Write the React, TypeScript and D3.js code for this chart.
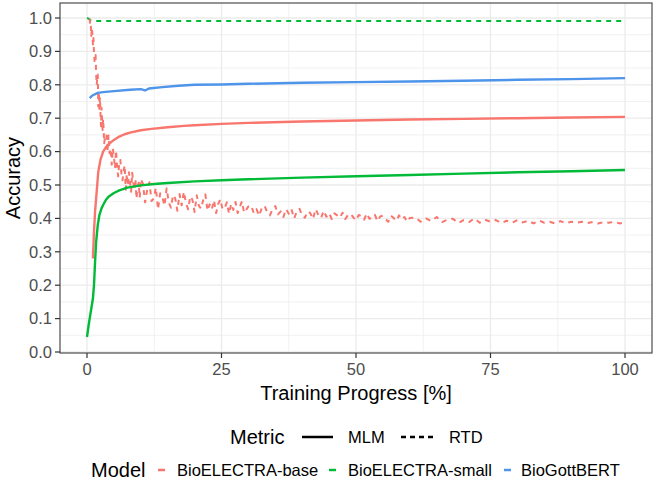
import * as d3 from 'd3';

const W = 655;
const H = 481;

// x: training progress (%), y: accuracy
const smallRtdX = [0, 0.3, 0.7, 1.2, 2, 5, 10, 25, 50, 75, 100];
const smallRtdY = [1.0, 0.998, 0.993, 0.991, 0.991, 0.991, 0.991, 0.991, 0.991, 0.991, 0.991];

const gottMlmX = [0.5, 1, 2, 3, 5, 8, 10, 10.8, 11.5, 14, 17, 20, 25, 30, 40, 50, 60, 70, 80, 90, 100];
const gottMlmY = [0.76, 0.768, 0.776, 0.778, 0.781, 0.785, 0.787, 0.783, 0.789, 0.793, 0.797, 0.8, 0.801, 0.803, 0.806, 0.808, 0.81, 0.812, 0.815, 0.817, 0.82];

const baseMlmX = [1.1, 1.3, 1.5, 1.8, 2.1, 2.5, 3, 3.5, 4, 5, 6, 7, 8, 10, 12, 15, 18, 20, 25, 30, 40, 50, 60, 70, 80, 90, 100];
const baseMlmY = [0.28, 0.36, 0.42, 0.48, 0.54, 0.575, 0.6, 0.613, 0.622, 0.635, 0.645, 0.652, 0.657, 0.664, 0.668, 0.673, 0.677, 0.679, 0.683, 0.686, 0.69, 0.693, 0.696, 0.698, 0.7, 0.702, 0.704];

const smallMlmX = [0, 0.3, 0.6, 0.9, 1.1, 1.3, 1.5, 1.7, 2, 2.3, 2.7, 3, 3.5, 4, 5, 6, 7.5, 10, 12.5, 15, 20, 25, 30, 40, 50, 60, 70, 80, 90, 100];
const smallMlmY = [0.045, 0.08, 0.11, 0.14, 0.16, 0.2, 0.27, 0.33, 0.38, 0.41, 0.43, 0.44, 0.455, 0.465, 0.476, 0.484, 0.492, 0.499, 0.503, 0.506, 0.511, 0.514, 0.517, 0.522, 0.526, 0.53, 0.534, 0.538, 0.541, 0.545];

// BioELECTRA-base RTD accuracy, noisy readings
const baseRtd: [number, number][] = [
  [0.5, 0.998], [0.6, 0.974], [0.7, 0.978], [0.8, 0.946], [0.9, 0.97], [1.0, 0.952], [1.1, 0.921], [1.2, 0.94],
  [1.3, 0.898], [1.4, 0.871], [1.5, 0.884], [1.6, 0.889], [1.7, 0.833], [1.8, 0.8], [1.9, 0.82], [2.0, 0.831],
  [2.1, 0.735], [2.2, 0.778], [2.3, 0.728], [2.4, 0.763], [2.5, 0.718], [2.6, 0.676], [2.7, 0.731], [2.8, 0.696],
  [2.9, 0.665], [3.0, 0.698],
  [3.2, 0.625], [3.4, 0.651], [3.6, 0.651], [3.8, 0.598], [4.0, 0.648], [4.2, 0.595], [4.4, 0.609], [4.6, 0.561],
  [4.8, 0.61], [5.0, 0.586], [5.2, 0.55], [5.4, 0.604], [5.6, 0.553], [5.8, 0.526], [6.0, 0.57], [6.2, 0.575],
  [6.4, 0.534], [6.6, 0.514], [6.8, 0.541], [7.0, 0.559], [7.2, 0.486], [7.4, 0.533], [7.6, 0.498], [7.8, 0.538],
  [8.0, 0.506], [8.2, 0.48], [8.4, 0.537], [8.6, 0.509], [8.8, 0.485], [9.0, 0.518], [9.2, 0.459], [9.4, 0.495],
  [9.6, 0.507], [9.8, 0.462], [10.0, 0.518],
  [10.4, 0.504], [10.8, 0.448], [11.2, 0.487], [11.6, 0.508], [12.0, 0.452], [12.4, 0.46], [12.8, 0.492], [13.2, 0.427],
  [13.6, 0.475], [14.0, 0.464], [14.4, 0.438], [14.8, 0.49], [15.2, 0.448], [15.6, 0.432], [16.0, 0.47], [16.4, 0.46],
  [16.8, 0.423], [17.2, 0.473], [17.6, 0.439], [18.0, 0.48], [18.4, 0.446], [18.8, 0.427], [19.2, 0.466], [19.6, 0.456],
  [20.0, 0.419], [20.4, 0.469], [20.8, 0.438], [21.2, 0.429], [21.6, 0.455], [22.0, 0.472], [22.4, 0.423], [22.8, 0.442],
  [23.2, 0.427], [23.6, 0.454], [24.0, 0.416], [24.4, 0.444], [24.8, 0.457], [25.2, 0.427], [25.6, 0.431], [26.0, 0.448],
  [26.4, 0.414], [26.8, 0.444], [27.2, 0.425], [27.6, 0.449], [28.0, 0.416], [28.4, 0.434], [28.8, 0.451], [29.2, 0.417],
  [29.6, 0.426], [30.0, 0.436],
  [30.5, 0.439], [31.0, 0.416], [31.5, 0.428], [32.0, 0.408], [32.5, 0.432], [33.0, 0.438], [33.5, 0.418], [34.0, 0.409],
  [34.5, 0.428], [35.0, 0.437], [35.5, 0.412], [36.0, 0.421], [36.5, 0.404], [37.0, 0.428], [37.5, 0.414], [38.0, 0.428],
  [38.5, 0.4], [39.0, 0.42], [39.5, 0.429], [40.0, 0.408], [40.5, 0.402], [41.0, 0.421], [41.5, 0.416], [42.0, 0.398],
  [42.5, 0.428], [43.0, 0.41], [43.5, 0.401], [44.0, 0.423], [44.5, 0.405], [45.0, 0.416], [45.5, 0.398], [46.0, 0.415],
  [46.5, 0.409], [47.0, 0.402], [47.5, 0.417], [48.0, 0.398], [48.5, 0.41], [49.0, 0.414], [49.5, 0.403], [50.0, 0.394],
  [50.5, 0.41], [51.0, 0.407], [51.5, 0.396], [52.0, 0.415], [52.5, 0.399], [53.0, 0.402], [53.5, 0.411], [54.0, 0.392],
  [54.5, 0.406], [55.0, 0.408], [55.5, 0.398], [56.0, 0.39], [56.5, 0.408], [57.0, 0.401], [57.5, 0.393], [58.0, 0.409],
  [58.5, 0.397], [59.0, 0.404], [59.5, 0.39], [60.0, 0.401],
  [61, 0.403], [62, 0.39], [63, 0.4], [64, 0.392], [65, 0.404], [66, 0.389], [67, 0.396], [68, 0.399],
  [69, 0.386], [70, 0.395], [71, 0.389], [72, 0.4], [73, 0.387], [74, 0.396], [75, 0.39], [76, 0.395],
  [77, 0.386], [78, 0.393], [79, 0.387], [80, 0.395], [81, 0.388], [82, 0.393], [83, 0.385], [84, 0.394],
  [85, 0.387], [86, 0.39], [87, 0.385], [88, 0.392], [89, 0.385], [90, 0.39], [91, 0.387], [92, 0.39],
  [93, 0.386], [94, 0.389], [95, 0.385], [96, 0.389], [97, 0.387], [98, 0.39], [99, 0.385], [100, 0.388],
];

const xTicks = [0, 25, 50, 75, 100];
const yTicks = [0, 0.1, 0.2, 0.3, 0.4, 0.5, 0.6, 0.7, 0.8, 0.9, 1.0];
const xMinor = [12.5, 37.5, 62.5, 87.5];
const yMinor = [0.05, 0.15, 0.25, 0.35, 0.45, 0.55, 0.65, 0.75, 0.85, 0.95];

const models = ['BioELECTRA-base', 'BioELECTRA-small', 'BioGottBERT'];
const modelColors = ['#F8766D', '#00BA38', '#4E94EA'];
const metrics = ['MLM', 'RTD'];

const zip = (xs: number[], ys: number[]) => xs.map((v, j) => [v, ys[j]] as [number, number]);

const series = [
  { model: 1, metric: 'RTD', pts: zip(smallRtdX, smallRtdY) },
  { model: 0, metric: 'RTD', pts: baseRtd },
  { model: 2, metric: 'MLM', pts: zip(gottMlmX, gottMlmY) },
  { model: 0, metric: 'MLM', pts: zip(baseMlmX, baseMlmY) },
  { model: 1, metric: 'MLM', pts: zip(smallMlmX, smallMlmY) },
];

const FONT = '"Liberation Sans", Arial, Helvetica, sans-serif';

export default function App() {
  const left = 60, right = 652, top = 3, bottom = 353;
  const x = d3.scaleLinear().domain([0, 100]).range([87, 625]);
  const y = d3.scaleLinear().domain([0, 1]).range([352, 18]);
  const line = d3.line<[number, number]>().x(d => x(d[0])).y(d => y(d[1]));

  const modelKeys = [158, 329, 504];
  const modelLabels = [177, 348, 521];

  return (
    <svg width={W} height={H} style={{ position: 'absolute', left: 0, top: 0, background: '#fff' }} fontFamily={FONT}>
      <rect x={0} y={0} width={W} height={H} fill="#fff" />
      <g>
        {yMinor.map(v => (
          <line key={'ym' + v} x1={left} x2={right} y1={y(v)} y2={y(v)} stroke="#EBEBEB" strokeWidth={0.7} />
        ))}
        {xMinor.map(v => (
          <line key={'xm' + v} y1={top} y2={bottom} x1={x(v)} x2={x(v)} stroke="#EBEBEB" strokeWidth={0.7} />
        ))}
        {yTicks.map(v => (
          <line key={'yg' + v} x1={left} x2={right} y1={y(v)} y2={y(v)} stroke="#EBEBEB" strokeWidth={1.3} />
        ))}
        {xTicks.map(v => (
          <line key={'xg' + v} y1={top} y2={bottom} x1={x(v)} x2={x(v)} stroke="#EBEBEB" strokeWidth={1.3} />
        ))}
      </g>
      <g fill="none" strokeLinejoin="round">
        {series.map((s, i) => (
          <path
            key={i}
            d={line(s.pts) || ''}
            stroke={modelColors[s.model]}
            strokeWidth={s.metric === 'RTD' ? 2 : 2.4}
            strokeDasharray={s.metric === 'RTD' ? '5,5' : undefined}
          />
        ))}
      </g>
      <rect x={left} y={top} width={right - left} height={bottom - top} fill="none" stroke="#4D4D4D" strokeWidth={1.2} />
      <g>
        {yTicks.map(v => (
          <g key={'yt' + v}>
            <line x1={left - 5} x2={left} y1={y(v)} y2={y(v)} stroke="#333" strokeWidth={1.2} />
            <text x={left - 8} y={y(v)} dy="0.35em" textAnchor="end" fontSize={16.5} fill="#4D4D4D">
              {d3.format('.1f')(v)}
            </text>
          </g>
        ))}
        {xTicks.map(v => (
          <g key={'xt' + v}>
            <line x1={x(v)} x2={x(v)} y1={bottom} y2={bottom + 5} stroke="#333" strokeWidth={1.2} />
            <text x={x(v)} y={bottom + 22} textAnchor="middle" fontSize={16.5} fill="#4D4D4D">
              {v}
            </text>
          </g>
        ))}
      </g>
      <text x={(left + right) / 2} y={400} textAnchor="middle" fontSize={20} fill="#000">
        Training Progress [%]
      </text>
      <text transform={`translate(20,${(top + bottom) / 2}) rotate(-90)`} textAnchor="middle" fontSize={20} fill="#000">
        Accuracy
      </text>

      <g>
        <text x={230} y={444} fontSize={20} fill="#000">Metric</text>
        <line x1={302} x2={333} y1={437} y2={437} stroke="#000" strokeWidth={2.5} />
        <text x={348} y={443} fontSize={16.5} fill="#000">{metrics[0]}</text>
        <line x1={401} x2={433} y1={437} y2={437} stroke="#000" strokeWidth={2.5} strokeDasharray="5,4" />
        <text x={449} y={443} fontSize={16.5} fill="#000">{metrics[1]}</text>
      </g>
      <g>
        <text x={91} y={477} fontSize={20} fill="#000">Model</text>
        {models.map((m, i) => (
          <g key={m}>
            <line x1={modelKeys[i]} x2={modelKeys[i] + 7} y1={470} y2={470} stroke={modelColors[i]} strokeWidth={2.5} />
            <text x={modelLabels[i]} y={476} fontSize={16.5} fill="#000">{m}</text>
          </g>
        ))}
      </g>
    </svg>
  );
}
